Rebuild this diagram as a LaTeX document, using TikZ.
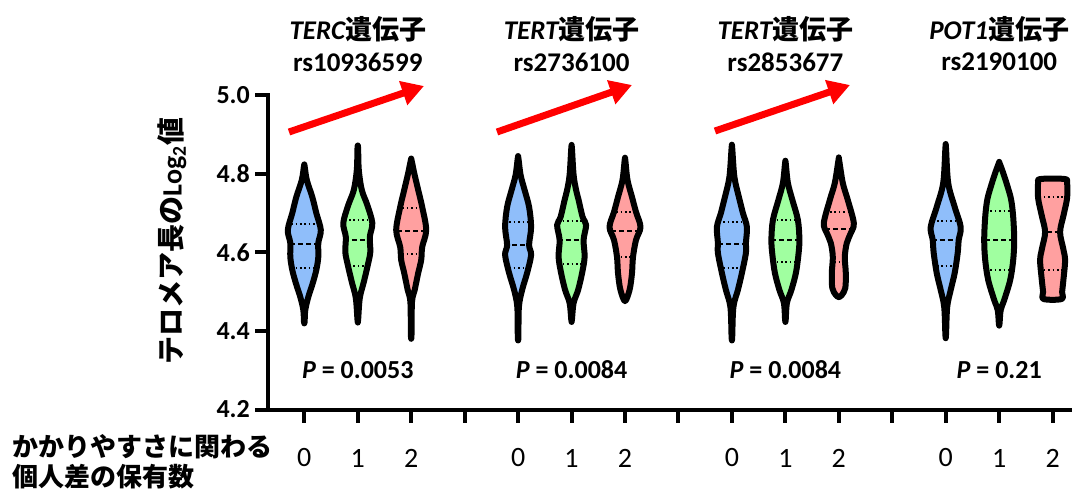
\documentclass[tikz,border=0pt]{standalone}
\usepackage{fontspec}
\setmainfont{Carlito}
\newfontfamily\jp{Noto Sans CJK JP}
\usetikzlibrary{arrows.meta}
\definecolor{vblue}{RGB}{143,190,250}
\definecolor{vgreen}{RGB}{160,255,160}
\definecolor{vred}{RGB}{255,160,160}
\definecolor{trendred}{RGB}{255,0,0}
\tikzset{
	axisline/.style={line width=4pt},
	violinline/.style={line width=6pt, line join=round},
	medline/.style={line width=1.6pt, dash pattern=on 5pt off 3pt},
	qline/.style={line width=1.6pt, dash pattern=on 1.6pt off 2.8pt},
	trend/.style={line width=7pt, color=trendred, -{Triangle[length=22pt,width=24pt]}},
	lbl/.style={inner sep=0pt, font=\fontsize{26}{30}\selectfont\bfseries},
	title/.style={inner sep=0pt, font=\fontsize{27}{30}\selectfont\bfseries},
	ticklbl/.style={inner sep=0pt, font=\fontsize{28}{30}\selectfont},
}
% \violin[fill](x){y/halfwidth, ...}{q1}{median}{q3}
\def\violin[#1](#2)#3#4#5#6{%
	\gdef\vR{}\gdef\vL{}%
	\foreach \yy/\ww in {#3}{\xdef\vR{\vR(\ww,\yy)}\xdef\vL{(-\ww,\yy)\vL}}%
	\edef\vshape{plot[smooth cycle,tension=0.55] coordinates {\vR\vL}}%
	\begin{scope}[shift={(#2,0)}]
		\edef\vtmp{\noexpand\fill[#1] \vshape;}\vtmp
		\begin{scope}
			\edef\vtmp{\noexpand\clip \vshape;}\vtmp
			\draw[qline] (-22,#4) -- (22,#4);
			\draw[medline] (-22,#5) -- (22,#5);
			\draw[qline] (-22,#6) -- (22,#6);
		\end{scope}
		\edef\vtmp{\noexpand\draw[violinline] \vshape;}\vtmp
	\end{scope}}

\begin{document}
\begin{tikzpicture}[x=1pt, y=-1pt]
		%%%%% START %%%%%
		\useasboundingbox (0,0) rectangle (1077,488);
		
		% axes
		\draw[axisline] (268,93) -- (268,409.5) -- (1072,409.5);
		\foreach \yv/\yl [count=\i] in {95/5.0, 173.7/4.8, 252.3/4.6, 331/4.4, 409.5/4.2} {
			\draw[axisline] (255,\yv) -- (268,\yv);
			\node[lbl, anchor=east] (ytick\i) at (250,\yv) {\yl};
		}
		\foreach \k in {0,...,14}
			\draw[axisline] ({304.3+53.45*\k},409.5) -- ++(0,13);
		\foreach \k/\l in {0/0,1/1,2/2,4/0,5/1,6/2,8/0,9/1,10/2,12/0,13/1,14/2}
			\node[ticklbl] (xtick\k) at ({304.3+53.45*\k},458) {\l};
		
		\node[lbl, rotate=90, font=\fontsize{28}{30}\selectfont\bfseries] (ytitle) at (172,241)
			{{\jp テロメア長の}Log\textsubscript{2}{\jp 値}};
		\node[inner sep=0pt, anchor=west, align=left, font=\fontsize{26}{30.5}\selectfont\jp\bfseries] (xtitle) at (12,462)
			{かかりやすさに関わる\\個人差の保有数};
		
		% group 1: TERC
		\violin[vblue](304.3){166/0.3, 180/2.5, 197/8, 213/12, 230/16.5, 243/14, 257/14, 270/12, 283/8.5, 297/4, 310/1, 322/0.3}{224}{244}{268}
		\violin[vgreen](357.8){148/0.3, 170/1, 190/4, 205/9.5, 223/14.5, 237/12, 252/12.5, 265/10, 282/6, 298/2, 320/0.3}{220}{240}{266}
		\violin[vred](411.2){160/0.3, 173/3, 190/7, 207/11, 230/15, 247/11, 260/10, 273/7, 290/3.5, 302/0.8, 335/0.3}{208}{231}{254}
		
		% group 2: TERT rs2736100
		\violin[vblue](518.1){158/0.3, 175/2.5, 190/6.5, 207/11, 227/13, 245/11, 255/13, 273/9, 290/4, 307/0.8, 337/0.3}{222}{245}{268}
		\violin[vgreen](571.6){148/0.3, 175/2, 190/4.5, 200/7, 217/11, 225/14.5, 240/12, 257/13, 273/10.5, 290/6.5, 303/2, 320/0.3}{221}{240}{264}
		\violin[vred](625){160/0.3, 180/2.5, 197/7, 212/11, 227/15.5, 240/11, 257/8, 273/7, 288/5, 298/2, 301/0.3}{212}{231}{257}
		
		% group 3: TERT rs2853677
		\violin[vblue](731.9){148/0.3, 177/2.5, 197/7, 213/11, 227/15, 243/14, 253/14, 273/10, 290/6, 307/1.5, 337/0.3}{222}{244}{268}
		\violin[vgreen](785.4){163/0.3, 183/2.5, 200/7, 220/12.5, 240/14, 255/13, 273/10.5, 290/6, 303/1.5, 320/0.3}{220}{240}{262}
		\violin[vred](838.8){160/0.3, 183/4, 200/9, 223/15, 233/12, 243/8, 257/6, 273/7, 288/6.5, 295/3, 297/0.3}{212}{229}{262}
		
		% group 4: POT1
		\violin[vblue](945.7){148/0.3, 183/2.5, 207/9, 227/15, 240/13, 253/12, 273/9, 290/5, 307/1.5, 335/0.3}{221}{240}{266}
		\violin[vgreen](999.2){163/0.3, 173/4, 187/8.5, 200/12, 217/14, 240/15, 260/14, 280/11, 300/5, 310/1.5, 324/0.3}{211}{240}{270}
		\violin[vred](1052.6){179/12, 183/14.5, 198/14.5, 215/11, 232/7.5, 248/10.5, 260/12.5, 278/11, 292/9.5, 299/9}{197}{232}{270}
		
		% gene titles
		\node[title] (gene1) at (357.8,29) {{\itshape TERC}{\jp 遺伝子}};
		\node[title] (snp1) at (357.8,62) {rs10936599};
		\node[title] (gene2) at (571.6,29) {{\itshape TERT}{\jp 遺伝子}};
		\node[title] (snp2) at (571.6,62) {rs2736100};
		\node[title] (gene3) at (785.4,29) {{\itshape TERT}{\jp 遺伝子}};
		\node[title] (snp3) at (785.4,62) {rs2853677};
		\node[title] (gene4) at (999.2,29) {{\itshape POT1}{\jp 遺伝子}};
		\node[title] (snp4) at (999.2,62) {rs2190100};
		
		% trend arrows
		\coordinate (t1a) at (289,132); \coordinate (t1b) at (424,86);
		\coordinate (t2a) at (497,132); \coordinate (t2b) at (632,85);
		\coordinate (t3a) at (715,131); \coordinate (t3b) at (850,85);
		\draw[trend] (t1a) -- (t1b);
		\draw[trend] (t2a) -- (t2b);
		\draw[trend] (t3a) -- (t3b);
		
		% p values
		\node[lbl] (p1) at (357.8,370) {\textit{P} = 0.0053};
		\node[lbl] (p2) at (571.6,370) {\textit{P} = 0.0084};
		\node[lbl] (p3) at (785.4,370) {\textit{P} = 0.0084};
		\node[lbl] (p4) at (999.2,370) {\textit{P} = 0.21};
		
		%%%%% END %%%%%
\end{tikzpicture}
\end{document}
